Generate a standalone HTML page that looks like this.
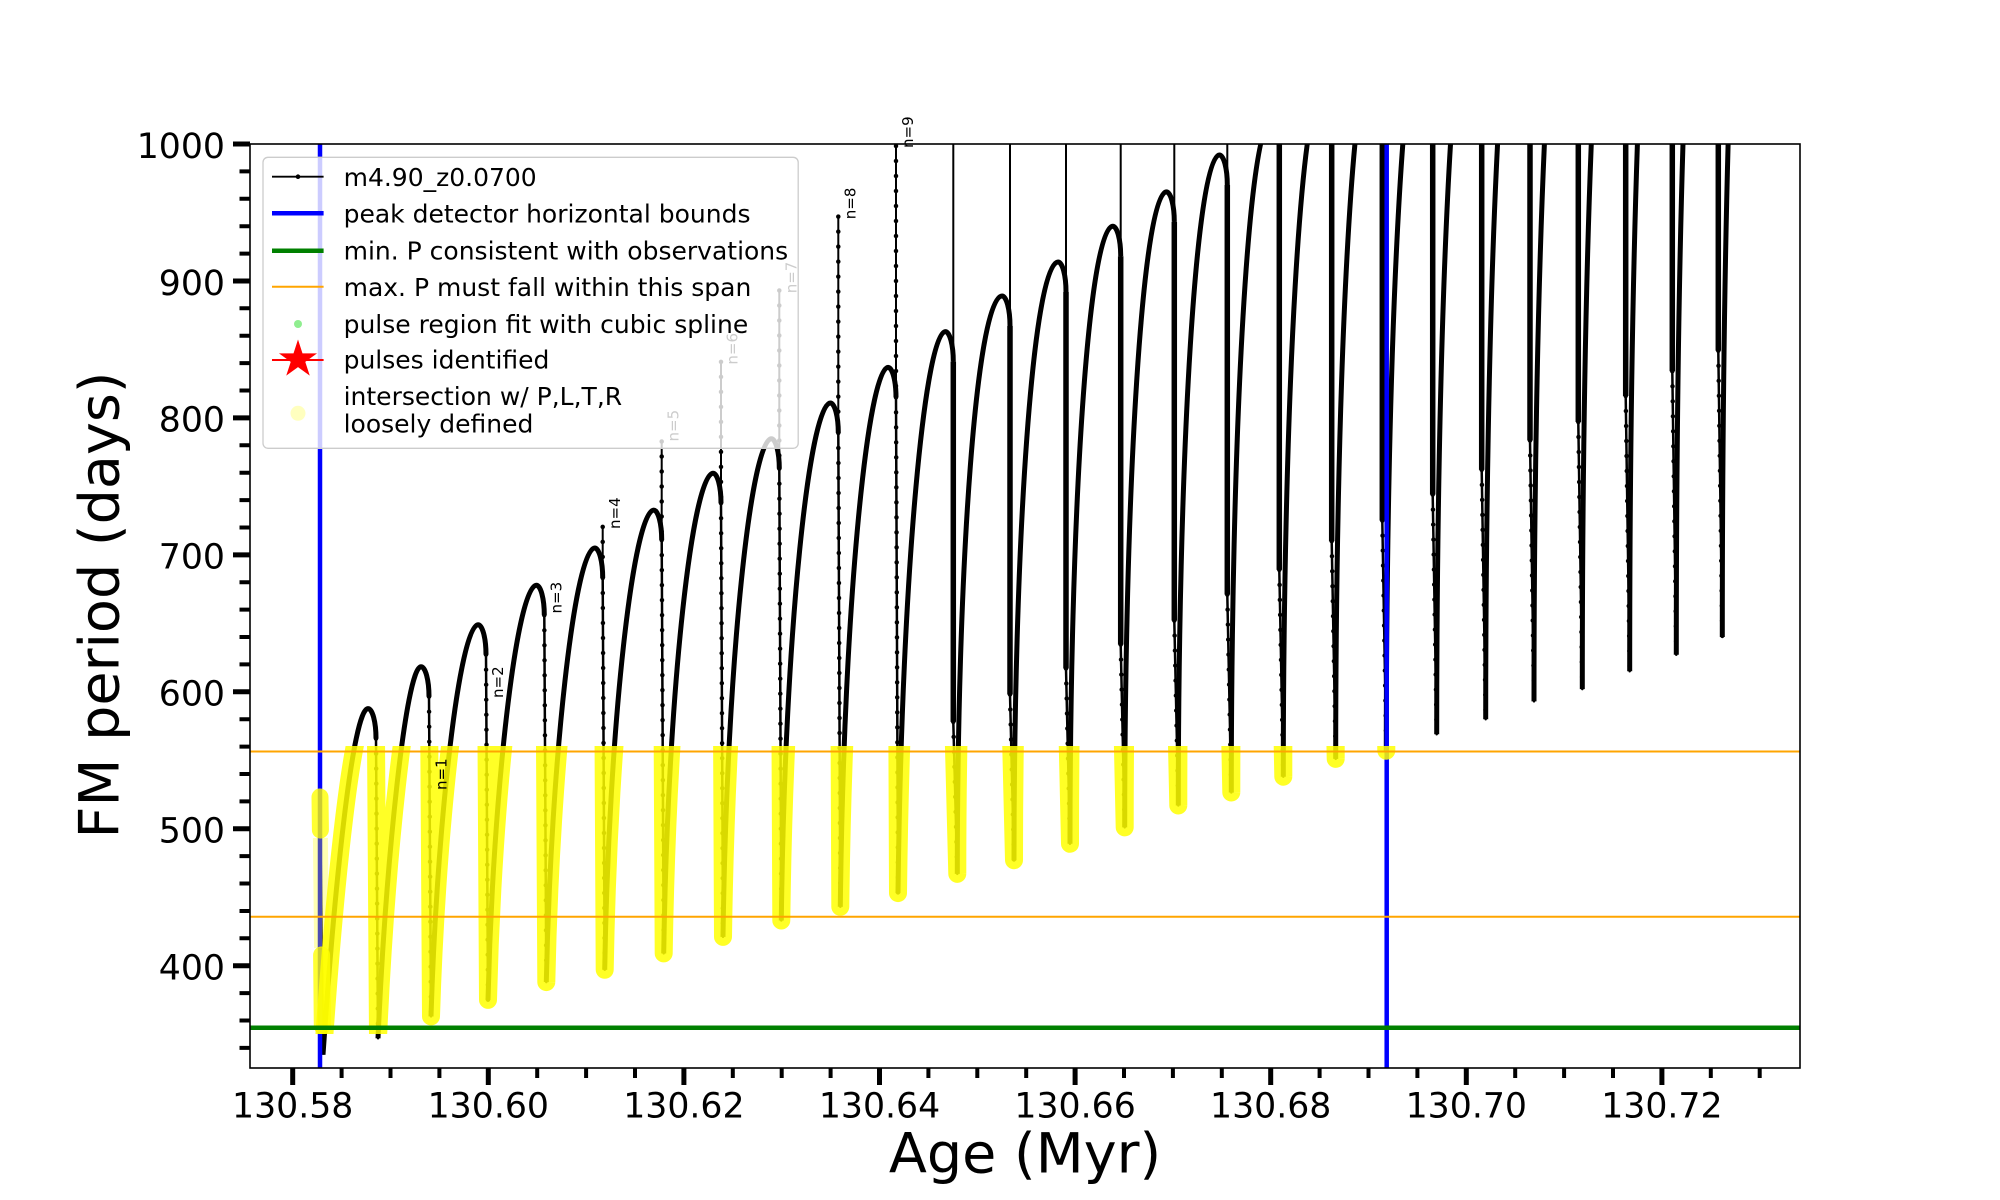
<!DOCTYPE html>
<html>
<head>
<meta charset="utf-8">
<style>
html,body{margin:0;padding:0;background:#fff;}
svg{display:block;}
</style>
</head>
<body>
<svg width="2000" height="1200" viewBox="0 0 2000 1200" xmlns="http://www.w3.org/2000/svg" font-family="'DejaVu Sans', 'Liberation Sans', sans-serif">
<rect width="2000" height="1200" fill="#fff"/>
<defs>
<clipPath id="ax"><rect x="250" y="144" width="1550" height="924"/></clipPath>
<clipPath id="band"><rect x="250" y="746" width="1550" height="288"/></clipPath>
<path id="c" d="M323,1054.7 C335,880 353,708.6 368,708.6 A8,30 0 0 1 376,738.6
L378,1038.3 C386,860 406,666.7 421,666.7 A8,30 0 0 1 429,696.7
L431,1016.4 C437,820 460,624.7 478,624.7 A8,30 0 0 1 486,654.7
L488,999.9 C493,790 517,585.3 536.3,585.3 A8,30 0 0 1 544.3,615.3
L546.3,982.1 C551,760 575,548 594.7,548 A8,30 0 0 1 602.7,578
L604.7,969.8 C609,720 634,510.1 653.7,510.1 A8,30 0 0 1 661.7,540.1
L663.7,953.4 C668,680 693.5,473.2 713,473.2 A8,30 0 0 1 721,503.2
L723,936.9 C727,650 752,438.7 771.3,438.7 A8,30 0 0 1 779.3,468.7
L781.3,920.5 C785,620 810.5,403 830.3,403 A8,30 0 0 1 838.3,433
L840.3,906.8 C844,590 869,367.4 888,367.4 A8,30 0 0 1 896,397.4
L898,893.1 C902,560 926,331.6 945.3,331.6 A8,30 0 0 1 953.3,361.6
L953.3,721.9 L957.3,873.9 A44.7,577.9 0 0 1 1002,296 A8,30 0 0 1 1010,326
L1010,694.5 L1014,860.2 A44,598.2 0 0 1 1058,262 A8,30 0 0 1 1066,292
L1066,668.5 L1070,843.8 A42.7,617.6 0 0 1 1112.7,226.2 A8,30 0 0 1 1120.7,256.2
L1120.7,644.6 L1124.7,827.4 A41.6,635.5 0 0 1 1166.3,191.9 A8,30 0 0 1 1174.3,221.9
L1174.3,620.6 L1178.3,805.5 A41,650.5 0 0 1 1219.3,155 A8,30 0 0 1 1227.3,185
L1227.3,594.6 L1231.3,792.5 A40,673.2 0 0 1 1271.3,119.3 A8,30 0 0 1 1279.3,149.3
L1279.3,569.9 L1283.3,776.7 A40.4,693 0 0 1 1323.7,83.7 A8,30 0 0 1 1331.7,113.7
L1331.7,541.2 L1335.7,758.9 A38.6,710.8 0 0 1 1374.3,48.1 A8,30 0 0 1 1382.3,78.1
L1382.3,520.6 L1386.3,750.7 A38.4,738.2 0 0 1 1424.7,12.5 A8,30 0 0 1 1432.7,42.5
L1432.7,494.6 L1436.7,734.3 A37,757.4 0 0 1 1473.7,-23.1 A8,30 0 0 1 1481.7,6.9
L1481.7,469.9 L1485.7,719.2 A36.3,777.9 0 0 1 1522,-58.7 A8,30 0 0 1 1530,-28.7
L1530,440.5 L1534,701.4 A36.3,795.7 0 0 1 1570.3,-94.3 A8,30 0 0 1 1578.3,-64.3
L1578.3,422 L1582.3,689.1 A35.4,819 0 0 1 1617.7,-129.9 A8,30 0 0 1 1625.7,-99.9
L1625.7,396 L1629.7,671.3 A34.6,836.8 0 0 1 1664.3,-165.5 A8,30 0 0 1 1672.3,-135.5
L1672.3,371.3 L1676.3,654.8 A34,855.9 0 0 1 1710.3,-201.1 A8,30 0 0 1 1718.3,-171.1
L1718.3,350.8 L1722.3,637 A33.7,873.7 0 0 1 1756,-236.7"/>
</defs>

<g clip-path="url(#ax)">
  <!-- first pulse fall -->
  <path d="M320,795.9 L323,1054.7" fill="none" stroke="#000" stroke-width="2.5"/>
  <!-- main curve (thin) -->
  <use href="#c" fill="none" stroke="#000" stroke-width="2.5" stroke-linejoin="round"/>
  <!-- dense rising arcs -->
  <path fill="none" stroke="#000" stroke-width="5" d="M323,1054.7C335,880 353,708.6 368,708.6A8,30 0 0 1 376,738.6
M378,1038.3C386,860 406,666.7 421,666.7A8,30 0 0 1 429,696.7
M431,1016.4C437,820 460,624.7 478,624.7A8,30 0 0 1 486,654.7
M488,999.9C493,790 517,585.3 536.3,585.3A8,30 0 0 1 544.3,615.3
M546.3,982.1C551,760 575,548 594.7,548A8,30 0 0 1 602.7,578
M604.7,969.8C609,720 634,510.1 653.7,510.1A8,30 0 0 1 661.7,540.1
M663.7,953.4C668,680 693.5,473.2 713,473.2A8,30 0 0 1 721,503.2
M723,936.9C727,650 752,438.7 771.3,438.7A8,30 0 0 1 779.3,468.7
M781.3,920.5C785,620 810.5,403 830.3,403A8,30 0 0 1 838.3,433
M840.3,906.8C844,590 869,367.4 888,367.4A8,30 0 0 1 896,397.4
M898,893.1C902,560 926,331.6 945.3,331.6A8,30 0 0 1 953.3,361.6
M957.3,873.9A44.7,577.9 0 0 1 1002,296A8,30 0 0 1 1010,326
M1014,860.2A44,598.2 0 0 1 1058,262A8,30 0 0 1 1066,292
M1070,843.8A42.7,617.6 0 0 1 1112.7,226.2A8,30 0 0 1 1120.7,256.2
M1124.7,827.4A41.6,635.5 0 0 1 1166.3,191.9A8,30 0 0 1 1174.3,221.9
M1178.3,805.5A41,650.5 0 0 1 1219.3,155A8,30 0 0 1 1227.3,185
M1231.3,792.5A40,673.2 0 0 1 1271.3,119.3
M1283.3,776.7A40.4,693 0 0 1 1323.7,83.7
M1335.7,758.9A38.6,710.8 0 0 1 1374.3,48.1
M1386.3,750.7A38.4,738.2 0 0 1 1424.7,12.5
M1436.7,734.3A37,757.4 0 0 1 1473.7,-23.1
M1485.7,719.2A36.3,777.9 0 0 1 1522,-58.7
M1534,701.4A36.3,795.7 0 0 1 1570.3,-94.3
M1582.3,689.1A35.4,819 0 0 1 1617.7,-129.9
M1629.7,671.3A34.6,836.8 0 0 1 1664.3,-165.5
M1676.3,654.8A34,855.9 0 0 1 1710.3,-201.1
M1722.3,637A33.7,873.7 0 0 1 1756,-236.7"/>
  <!-- thick falling branches -->
  <path fill="none" stroke="#000" stroke-width="5.5" d="M953.3,361.6L953.3,721.9 M1010,326L1010,694.5 M1066,292L1066,668.5 M1120.7,256.2L1120.7,644.6 M1174.3,221.9L1174.3,620.6 M1227.3,185L1227.3,594.6 M1279.3,144L1279.3,569.9 M1331.7,144L1331.7,541.2 M1382.3,144L1382.3,520.6 M1432.7,144L1432.7,494.6 M1481.7,144L1481.7,469.9 M1530,144L1530,440.5 M1578.3,144L1578.3,422 M1625.7,144L1625.7,396 M1672.3,144L1672.3,371.3 M1718.3,144L1718.3,350.8"/>
  <!-- spikes -->
  <path fill="none" stroke="#000" stroke-width="2" d="M602.7,526.9L602.7,578 M661.7,441.5L661.7,540.1 M721,361.9L721,503.2 M779.3,290.5L779.3,468.7 M838.3,216.6L838.3,433 M896,146L896,397.4 M953.3,144L953.3,361.6 M1010,144L1010,326 M1066,144L1066,292 M1120.7,144L1120.7,256.2 M1174.3,144L1174.3,221.9 M1227.3,144L1227.3,185"/>
  <!-- data point dots -->
  <path fill="none" stroke="#000" stroke-width="4.5" stroke-linecap="round" stroke-dasharray="0 15" d="M602.7,526.9L602.7,578 M661.7,441.5L661.7,540.1 M721,361.9L721,503.2 M779.3,290.5L779.3,468.7 M838.3,216.6L838.3,433 M896,146L896,397.4
M376,738.6L378,1038.3 M429,696.7L431,1016.4 M486,654.7L488,999.9 M544.3,615.3L546.3,982.1 M602.7,578L604.7,969.8 M661.7,540.1L663.7,953.4 M721,503.2L723,936.9 M779.3,468.7L781.3,920.5 M838.3,433L840.3,906.8 M896,397.4L898,893.1
M953.3,721.9L957.3,873.9 M1010,694.5L1014,860.2 M1066,668.5L1070,843.8 M1120.7,644.6L1124.7,827.4 M1174.3,620.6L1178.3,805.5 M1227.3,594.6L1231.3,792.5 M1279.3,569.9L1283.3,776.7 M1331.7,541.2L1335.7,758.9 M1382.3,520.6L1386.3,750.7 M1432.7,494.6L1436.7,734.3 M1481.7,469.9L1485.7,719.2 M1530,440.5L1534,701.4 M1578.3,422L1582.3,689.1 M1625.7,396L1629.7,671.3 M1672.3,371.3L1676.3,654.8 M1718.3,350.8L1722.3,637"/>
  <!-- blue bounds -->
  <line x1="320" y1="144" x2="320" y2="1068" stroke="#0000ff" stroke-width="4.5"/>
  <line x1="1386.7" y1="144" x2="1386.7" y2="1068" stroke="#0000ff" stroke-width="4.5"/>
  <!-- yellow intersection points -->
  <g clip-path="url(#band)">
    <use href="#c" fill="none" stroke="#ffff00" stroke-width="18" stroke-opacity="0.85" stroke-linejoin="round" stroke-linecap="round"/>
    <path d="M320,797 L320.4,830 M321.6,955 L322.3,1026" fill="none" stroke="#ffff00" stroke-width="17" stroke-opacity="0.8" stroke-linecap="round"/>
    <path d="M320.4,838 L321.6,948" fill="none" stroke="#ffff00" stroke-width="15" stroke-opacity="0.3"/>
  </g>
  <!-- horizontal lines -->
  <line x1="250" y1="751.5" x2="1800" y2="751.5" stroke="#ffa500" stroke-width="2"/>
  <line x1="250" y1="916.7" x2="1800" y2="916.7" stroke="#ffa500" stroke-width="2"/>
  <line x1="250" y1="1027.7" x2="1800" y2="1027.7" stroke="#008000" stroke-width="4.5"/>
</g>

<!-- pulse labels -->
<g font-size="15" fill="#000">
  <text transform="translate(446.7,790) rotate(-90)">n=1</text>
  <text transform="translate(503,698) rotate(-90)">n=2</text>
  <text transform="translate(561.5,613.5) rotate(-90)">n=3</text>
  <text transform="translate(620,529) rotate(-90)">n=4</text>
  <text transform="translate(678.3,441.5) rotate(-90)">n=5</text>
  <text transform="translate(737.5,364.6) rotate(-90)">n=6</text>
  <text transform="translate(796.5,293.3) rotate(-90)">n=7</text>
  <text transform="translate(855.5,219.2) rotate(-90)">n=8</text>
  <text transform="translate(913,148) rotate(-90)">n=9</text>
</g>

<!-- axes frame -->
<rect x="250" y="144" width="1550" height="924" fill="none" stroke="#000" stroke-width="1.6"/>

<!-- ticks -->
<path stroke="#000" stroke-width="5" fill="none" d="M233,144H250M233,280.95H250M233,417.9H250M233,554.85H250M233,691.8H250M233,828.75H250M233,965.7H250"/>
<path stroke="#000" stroke-width="4" fill="none" d="M239.5,171.4H250M239.5,198.8H250M239.5,226.2H250M239.5,253.6H250M239.5,308.3H250M239.5,335.7H250M239.5,363.1H250M239.5,390.5H250M239.5,445.3H250M239.5,472.7H250M239.5,500.1H250M239.5,527.5H250M239.5,582.2H250M239.5,609.6H250M239.5,637H250M239.5,664.4H250M239.5,719.2H250M239.5,746.6H250M239.5,774H250M239.5,801.4H250M239.5,856.1H250M239.5,883.5H250M239.5,911H250M239.5,938.3H250M239.5,993.1H250M239.5,1020.5H250M239.5,1047.9H250"/>
<path stroke="#000" stroke-width="5" fill="none" d="M292.7,1068V1085M488.3,1068V1085M683.9,1068V1085M879.5,1068V1085M1075.1,1068V1085M1270.7,1068V1085M1466.3,1068V1085M1661.9,1068V1085"/>
<path stroke="#000" stroke-width="4" fill="none" d="M341.6,1068V1078M390.5,1068V1078M439.4,1068V1078M537.2,1068V1078M586.1,1068V1078M635,1068V1078M732.8,1068V1078M781.7,1068V1078M830.6,1068V1078M928.4,1068V1078M977.3,1068V1078M1026.2,1068V1078M1124,1068V1078M1172.9,1068V1078M1221.8,1068V1078M1319.6,1068V1078M1368.5,1068V1078M1417.4,1068V1078M1515.2,1068V1078M1564.1,1068V1078M1613,1068V1078M1710.8,1068V1078M1759.7,1068V1078"/>

<!-- tick labels -->
<g font-size="34.7" fill="#000" text-anchor="middle">
  <text x="292.7" y="1117.3">130.58</text>
  <text x="488.3" y="1117.3">130.60</text>
  <text x="683.9" y="1117.3">130.62</text>
  <text x="879.5" y="1117.3">130.64</text>
  <text x="1075.1" y="1117.3">130.66</text>
  <text x="1270.7" y="1117.3">130.68</text>
  <text x="1466.3" y="1117.3">130.70</text>
  <text x="1661.9" y="1117.3">130.72</text>
</g>
<g font-size="34.7" fill="#000" text-anchor="end">
  <text x="225" y="157.8">1000</text>
  <text x="225" y="294.75">900</text>
  <text x="225" y="431.7">800</text>
  <text x="225" y="568.65">700</text>
  <text x="225" y="705.6">600</text>
  <text x="225" y="842.55">500</text>
  <text x="225" y="979.5">400</text>
</g>

<!-- axis labels -->
<text x="1025" y="1172.7" font-size="55.6" text-anchor="middle" fill="#000">Age (Myr)</text>
<text transform="translate(118.3,605) rotate(-90)" font-size="55.6" text-anchor="middle" fill="#000">FM period (days)</text>

<!-- legend -->
<rect x="263" y="157.3" width="535.2" height="291" rx="5" fill="#fff" fill-opacity="0.8" stroke="#cccccc" stroke-width="1.3"/>
<line x1="272" y1="176.7" x2="323.6" y2="176.7" stroke="#000" stroke-width="1.8"/>
<circle cx="298" cy="176.7" r="2.3" fill="#000"/>
<line x1="272" y1="213.3" x2="323.6" y2="213.3" stroke="#0000ff" stroke-width="4.5"/>
<line x1="272" y1="250.7" x2="323.6" y2="250.7" stroke="#008000" stroke-width="4.5"/>
<line x1="272" y1="286.7" x2="323.6" y2="286.7" stroke="#ffa500" stroke-width="2"/>
<circle cx="298" cy="324" r="4" fill="#90ee90"/>
<line x1="272" y1="360" x2="323.6" y2="360" stroke="#ff0000" stroke-width="2"/>
<polygon fill="#ff0000" points="298,339.5 302.49,353.32 317.02,353.32 305.27,361.86 309.76,375.68 298,367.14 286.24,375.68 290.73,361.86 278.98,353.32 293.51,353.32"/>
<circle cx="298" cy="413.3" r="7.5" fill="#ffff00" fill-opacity="0.25"/>
<g font-size="25" fill="#000">
  <text x="343.6" y="185.9">m4.90_z0.0700</text>
  <text x="343.6" y="222.6">peak detector horizontal bounds</text>
  <text x="343.6" y="259.5">min. P consistent with observations</text>
  <text x="343.6" y="295.8">max. P must fall within this span</text>
  <text x="343.6" y="332.8">pulse region fit with cubic spline</text>
  <text x="343.6" y="368.5">pulses identified</text>
  <text x="343.6" y="405">intersection w/ P,L,T,R</text>
  <text x="343.6" y="432.7">loosely defined</text>
</g>
</svg>
</body>
</html>
